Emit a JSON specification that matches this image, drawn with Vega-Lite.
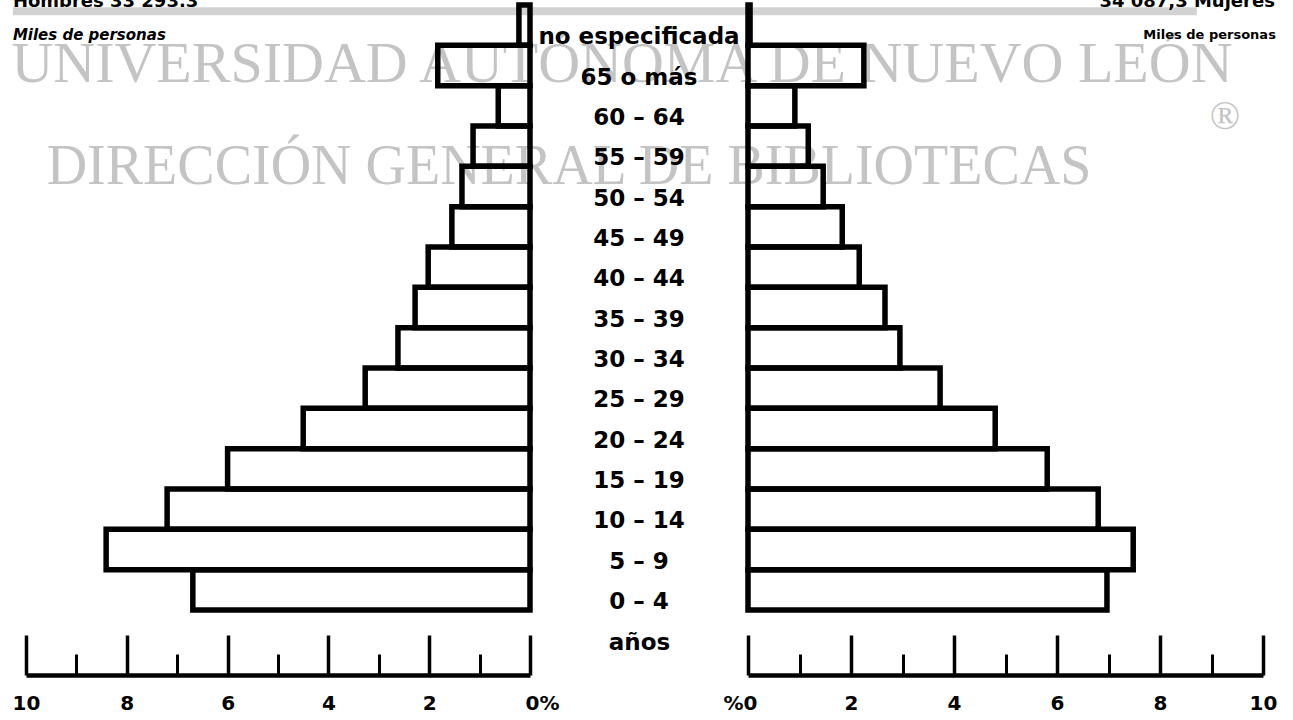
{
  "$schema": "https://vega.github.io/schema/vega-lite/v6.json",
  "background": "white",
  "padding": {"left": 8, "top": -7, "right": 10, "bottom": 0},
  "config": {"view": {"stroke": null}, "axis": {"grid": false}, "font": "DejaVu Sans"},
  "spacing": 0,
  "bounds": "flush",
  "datasets": {
    "piramide": [
      {"edad": "no especificada", "hombres": 0.22, "mujeres": 0.04},
      {"edad": "65 o más", "hombres": 1.83, "mujeres": 2.25},
      {"edad": "60 – 64", "hombres": 0.63, "mujeres": 0.91},
      {"edad": "55 – 59", "hombres": 1.13, "mujeres": 1.17},
      {"edad": "50 – 54", "hombres": 1.35, "mujeres": 1.46},
      {"edad": "45 – 49", "hombres": 1.55, "mujeres": 1.83},
      {"edad": "40 – 44", "hombres": 2.02, "mujeres": 2.16},
      {"edad": "35 – 39", "hombres": 2.28, "mujeres": 2.66},
      {"edad": "30 – 34", "hombres": 2.62, "mujeres": 2.95},
      {"edad": "25 – 29", "hombres": 3.27, "mujeres": 3.73},
      {"edad": "20 – 24", "hombres": 4.5, "mujeres": 4.8},
      {"edad": "15 – 19", "hombres": 6.0, "mujeres": 5.81},
      {"edad": "10 – 14", "hombres": 7.2, "mujeres": 6.8},
      {"edad": "5 – 9", "hombres": 8.41, "mujeres": 7.48},
      {"edad": "0 – 4", "hombres": 6.69, "mujeres": 6.97}
    ]
  },
  "hconcat": [
    {
      "width": 504,
      "height": 605,
      "data": {"name": "piramide"},
      "resolve": {"axis": {"x": "independent"}},
      "layer": [
        {
          "data": {"values": [{"t": "UNIVERSIDAD AUTÓNOMA DE NUEVO LEÓN"}]},
          "mark": {"type": "text", "font": "Liberation Serif", "fontSize": 58, "color": "#c4c4c4", "align": "center", "baseline": "alphabetic", "dy": 16.5},
          "encoding": {
            "x": {"datum": -1.825, "type": "quantitative", "axis": null},
            "y": {"datum": "65 o más", "type": "nominal", "axis": null},
            "text": {"field": "t"}
          }
        },
        {
          "data": {"values": [{"t": "DIRECCIÓN GENERAL DE BIBLIOTECAS"}]},
          "mark": {"type": "text", "font": "Liberation Serif", "fontSize": 56, "color": "#c4c4c4", "align": "center", "baseline": "alphabetic", "dy": -3},
          "encoding": {
            "x": {"datum": -0.774, "type": "quantitative", "axis": null},
            "y": {"datum": "50 – 54", "type": "nominal", "axis": null},
            "text": {"field": "t"}
          }
        },
        {
          "data": {"values": [{"t": "®"}]},
          "mark": {"type": "text", "font": "Liberation Serif", "fontSize": 40, "color": "#c4c4c4", "align": "center", "baseline": "middle", "dy": 11},
          "encoding": {
            "x": {"datum": -13.79, "type": "quantitative", "axis": null},
            "y": {"datum": "60 – 64", "type": "nominal", "axis": null},
            "text": {"field": "t"}
          }
        },
        {
          "data": {"values": [{}]},
          "mark": {"type": "rule", "color": "#d2d2d2", "strokeWidth": 8, "yOffset": -14},
          "encoding": {
            "x": {"datum": 10.26, "type": "quantitative", "axis": null},
            "x2": {"datum": -13.23},
            "y": {"datum": "no especificada", "type": "nominal", "axis": null}
          }
        },
        {
          "mark": {"type": "bar", "fill": "white", "fillOpacity": 0, "stroke": "black", "strokeWidth": 5.5, "strokeJoin": "miter"},
          "encoding": {
            "x": {
              "field": "hombres", "type": "quantitative",
              "scale": {"domain": [0, 10], "reverse": true, "nice": false},
              "axis": {
                "orient": "bottom", "values": [0, 2, 4, 6, 8, 10], "title": null, "offset": 65,
                "domainColor": "black", "domainWidth": 4.5, "tickColor": "black", "tickWidth": 3.5, "tickSize": -40,
                "labelFont": "DejaVu Sans", "labelFontWeight": "bold", "labelFontSize": 20, "labelColor": "black",
                "labelPadding": 58, "labelFlush": false, "labelOverlap": false,
                "labelExpr": "datum.value == 0 ? '0%' : datum.label",
                "labelOffset": {"condition": {"test": "datum.value == 0", "value": 12}, "value": 0}
              }
            },
            "y": {
              "field": "edad", "type": "nominal", "sort": null, "axis": null,
              "scale": {"domain": ["no especificada", "65 o más", "60 – 64", "55 – 59", "50 – 54", "45 – 49", "40 – 44", "35 – 39", "30 – 34", "25 – 29", "20 – 24", "15 – 19", "10 – 14", "5 – 9", "0 – 4"], "paddingInner": 0, "paddingOuter": 0}
            }
          }
        },
        {
          "data": {"values": [{"t": "Hombres 33 293.3"}]},
          "mark": {"type": "text", "font": "DejaVu Sans", "fontWeight": "bold", "fontSize": 18, "color": "black", "align": "left", "baseline": "alphabetic", "dy": -18},
          "encoding": {
            "x": {"datum": 10.26, "type": "quantitative", "axis": null},
            "y": {"datum": "no especificada", "type": "nominal", "axis": null},
            "text": {"field": "t"}
          }
        },
        {
          "data": {"values": [{"t": "Miles de personas"}]},
          "mark": {"type": "text", "font": "DejaVu Sans", "fontWeight": "bold", "fontStyle": "italic", "fontSize": 15, "color": "black", "align": "left", "baseline": "middle", "dy": 10},
          "encoding": {
            "x": {
              "datum": 10.26, "type": "quantitative",
              "axis": {"orient": "bottom", "values": [1, 3, 5, 7, 9], "title": null, "offset": 65, "domain": false, "labels": false, "tickSize": -21, "tickWidth": 3, "tickColor": "black"}
            },
            "y": {"datum": "no especificada", "type": "nominal", "axis": null},
            "text": {"field": "t"}
          }
        }
      ]
    },
    {
      "width": 218,
      "height": 605,
      "data": {"name": "piramide"},
      "mark": {"type": "text", "font": "DejaVu Sans", "fontWeight": "bold", "fontSize": 23, "baseline": "middle", "align": "center", "dy": 12, "color": "black"},
      "encoding": {
        "x": {
          "datum": 0.5, "type": "quantitative", "scale": {"domain": [0, 1]},
          "axis": {"title": "años", "domain": false, "ticks": false, "labels": false, "titleFont": "DejaVu Sans", "titleFontWeight": "bold", "titleFontSize": 23, "titleColor": "black", "titlePadding": 21}
        },
        "y": {
          "field": "edad", "type": "nominal", "sort": null, "axis": null,
          "scale": {"domain": ["no especificada", "65 o más", "60 – 64", "55 – 59", "50 – 54", "45 – 49", "40 – 44", "35 – 39", "30 – 34", "25 – 29", "20 – 24", "15 – 19", "10 – 14", "5 – 9", "0 – 4"], "paddingInner": 0, "paddingOuter": 0}
        },
        "text": {"field": "edad"}
      }
    },
    {
      "width": 515,
      "height": 605,
      "data": {"name": "piramide"},
      "resolve": {"axis": {"x": "independent"}},
      "layer": [
        {
          "mark": {"type": "bar", "fill": "white", "fillOpacity": 0, "stroke": "black", "strokeWidth": 5.5, "strokeJoin": "miter"},
          "encoding": {
            "x": {
              "field": "mujeres", "type": "quantitative",
              "scale": {"domain": [0, 10], "nice": false},
              "axis": {
                "orient": "bottom", "values": [0, 2, 4, 6, 8, 10], "title": null, "offset": 65,
                "domainColor": "black", "domainWidth": 4.5, "tickColor": "black", "tickWidth": 3.5, "tickSize": -40,
                "labelFont": "DejaVu Sans", "labelFontWeight": "bold", "labelFontSize": 20, "labelColor": "black",
                "labelPadding": 58, "labelFlush": false, "labelOverlap": false,
                "labelExpr": "datum.value == 0 ? '%0' : datum.label",
                "labelOffset": {"condition": {"test": "datum.value == 0", "value": -8}, "value": 0}
              }
            },
            "y": {
              "field": "edad", "type": "nominal", "sort": null, "axis": null,
              "scale": {"domain": ["no especificada", "65 o más", "60 – 64", "55 – 59", "50 – 54", "45 – 49", "40 – 44", "35 – 39", "30 – 34", "25 – 29", "20 – 24", "15 – 19", "10 – 14", "5 – 9", "0 – 4"], "paddingInner": 0, "paddingOuter": 0}
            }
          }
        },
        {
          "data": {"values": [{"t": "34 087,3 Mujeres"}]},
          "mark": {"type": "text", "font": "DejaVu Sans", "fontWeight": "bold", "fontSize": 18, "color": "black", "align": "right", "baseline": "alphabetic", "dy": -18},
          "encoding": {
            "x": {"datum": 10.23, "type": "quantitative", "axis": null},
            "y": {"datum": "no especificada", "type": "nominal", "axis": null},
            "text": {"field": "t"}
          }
        },
        {
          "data": {"values": [{"t": "Miles de personas"}]},
          "mark": {"type": "text", "font": "DejaVu Sans", "fontWeight": "bold", "fontSize": 13, "color": "black", "align": "right", "baseline": "middle", "dy": 10},
          "encoding": {
            "x": {
              "datum": 10.25, "type": "quantitative",
              "axis": {"orient": "bottom", "values": [1, 3, 5, 7, 9], "title": null, "offset": 65, "domain": false, "labels": false, "tickSize": -21, "tickWidth": 3, "tickColor": "black"}
            },
            "y": {"datum": "no especificada", "type": "nominal", "axis": null},
            "text": {"field": "t"}
          }
        }
      ]
    }
  ]
}
